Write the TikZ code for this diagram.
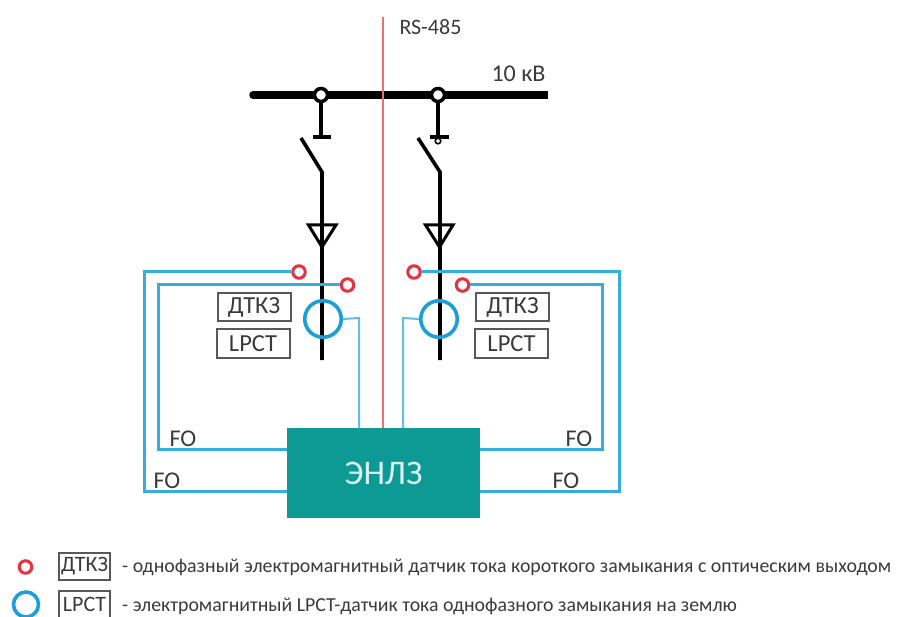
\documentclass[tikz,border=0pt]{standalone}
\usepackage{fontspec}
\setmainfont{Carlito}
\definecolor{fo}{HTML}{35AEDD}
\definecolor{fothin}{HTML}{62BFE3}
\definecolor{lpct}{HTML}{1A9FDB}
\definecolor{dtkz}{HTML}{E8303F}
\definecolor{rsline}{HTML}{EE6C75}
\definecolor{enlz}{HTML}{0E9A94}
\definecolor{ink}{HTML}{3A3A3A}
\tikzset{
  x=1pt,y=-1pt,
  tap/.style={circle,draw=black,line width=3.5pt,fill=white,minimum size=13pt,inner sep=0pt},
  sensorred/.style={circle,draw=dtkz,line width=3pt,fill=white,minimum size=12.5pt,inner sep=0pt},
  sensorblue/.style={circle,draw=lpct,line width=3.6pt,minimum size=36.5pt,inner sep=0pt},
  tagbox/.style={draw=ink!85,line width=2pt,minimum width=73pt,minimum height=28pt,inner sep=0pt,font=\fontsize{24.5}{24.5}\selectfont,text=ink},
  legbox/.style={draw=ink!85,line width=2pt,minimum width=51pt,minimum height=27pt,inner sep=0pt,font=\fontsize{22}{22}\selectfont,text=ink},
  lbl/.style={inner sep=0pt,text=ink,font=\fontsize{24}{24}\selectfont},
  legtext/.style={inner sep=0pt,anchor=west,text=ink,font=\fontsize{19.85}{20}\selectfont},
  busbar/.style={line width=7.5pt,black},
  feeder/.style={line width=3.6pt,black},
  fiber/.style={line width=3pt,fo},
  thinfiber/.style={line width=2pt,fothin},
  ctri/.style={line width=3pt,black,line join=miter}
}
\begin{document}
\begin{tikzpicture}
\useasboundingbox (0,0) rectangle (899,617);
% coordinates
\coordinate (busL) at (253,95); \coordinate (busR) at (548,95);
\coordinate (rsTop) at (383,17);
\coordinate (barA) at (321,137); \coordinate (barB) at (438,137);
\coordinate (hingeA) at (322,172); \coordinate (hingeB) at (440,172);
\coordinate (bladeA) at (301,138); \coordinate (bladeB) at (418,138);
\coordinate (endA) at (322,360); \coordinate (endB) at (440,360);
% bus
\draw[busbar,line cap=round] (busL) -- (500,95);
\draw[busbar] (500,95) -- (busR);
% feeders
\draw[feeder] (321,95) -- (barA);
\draw[feeder] (313,137) -- (331,137);
\draw[feeder] (bladeA) -- (hingeA) -- (endA);
\draw[feeder] (438,95) -- (barB);
\draw[feeder] (430,137) -- (449,137);
\draw[line width=1.6pt,black,fill=white] (438,141) circle (2.8);
\draw[feeder] (bladeB) -- (hingeB) -- (endB);
% cable terminations
\draw[ctri] (308.5,225) -- (336,225) -- (322,247) -- cycle;
\draw[ctri] (425.5,225) -- (453,225) -- (439.5,247) -- cycle;
% taps
\node[tap] (tapA) at (321,95) {};
\node[tap] (tapB) at (438,95) {};
% control unit
\node[fill=enlz,minimum width=193pt,minimum height=90pt,inner sep=0pt,text=white!85!enlz,font=\fontsize{34.5}{34.5}\selectfont] (enlz) at (383.5,473) {ЭНЛЗ};
% RS-485
\draw[line width=2pt,rsline] (rsTop) -- (383,428);
% sensors
\node[sensorred] (r1) at (299,272) {};
\node[sensorred] (r2) at (347.5,285) {};
\node[sensorred] (r3) at (414,272) {};
\node[sensorred] (r4) at (462.5,285) {};
\node[sensorblue] (b1) at (323,319) {};
\node[sensorblue] (b2) at (439,319) {};
% fibres
\draw[fiber] (r1.west) -- (144,272) -- (144,491) -- (287,491);
\draw[fiber] (r2.west) -- (158,285) -- (158,449) -- (287,449);
\draw[fiber] (r3.east) -- (619,272) -- (619,491) -- (480,491);
\draw[fiber] (r4.east) -- (602,285) -- (602,449) -- (480,449);
\draw[thinfiber] (b1.east) -- (359,318) -- (359,428);
\draw[thinfiber] (b2.west) -- (403,318) -- (403,428);
% tags
\node[tagbox] (t1) at (254,307.5) {ДТКЗ};
\node[tagbox] (t2) at (253,343.5) {LPCT};
\node[tagbox] (t3) at (512.5,307.5) {ДТКЗ};
\node[tagbox] (t4) at (511.5,343.5) {LPCT};
% labels
\node[lbl,font=\fontsize{22}{22}\selectfont] (rs) at (430.5,27) {RS-485};
\node[lbl] (kv) at (518.5,74) {10 кВ};
\node[lbl] (fo1) at (183,439) {FO};
\node[lbl] (fo2) at (167,481) {FO};
\node[lbl] (fo3) at (579,439) {FO};
\node[lbl] (fo4) at (566,481) {FO};
% legend
\node[sensorred] (lr) at (25.5,567) {};
\node[legbox] (lb1) at (84.5,566) {ДТКЗ};
\node[sensorblue,minimum size=25pt] (lc) at (26,604.5) {};
\node[legbox] (lb2) at (84.5,604) {LPCT};
\node[legtext] (lt1) at (122,567) {- однофазный электромагнитный датчик тока короткого замыкания с оптическим выходом};
\node[legtext] (lt2) at (122,606) {- электромагнитный LPCT-датчик тока однофазного замыкания на землю};
\end{tikzpicture}
\end{document}
